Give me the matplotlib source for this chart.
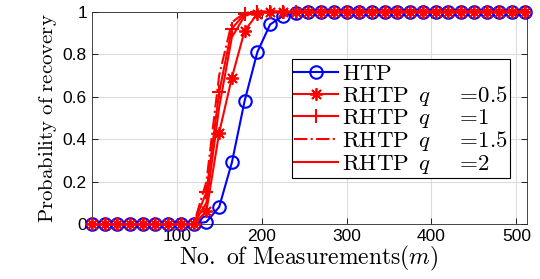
import numpy as np
import matplotlib
matplotlib.use("Agg")
import matplotlib.pyplot as plt

plt.rcParams["mathtext.fontset"] = "cm"
plt.rcParams["font.family"] = ["Liberation Sans", "DejaVu Sans"]

# number of measurements
m = [0, 15, 30, 45, 60, 75, 90, 105, 120, 135, 150, 165, 180, 195, 210, 225, 240,
     255, 270, 285, 300, 315, 330, 345, 360, 375, 390, 405, 420, 435, 450, 465,
     480, 495, 510]

tail = [1] * 18
htp = [0, 0, 0, 0, 0, 0, 0, 0, 0, 0.01, 0.08, 0.29, 0.58, 0.81, 0.94, 0.98, 0.995] + tail
rhtp_05 = [0, 0, 0, 0, 0, 0, 0, 0, 0, 0.06, 0.43, 0.69, 0.91, 0.99, 1, 1, 1] + tail
rhtp_1 = [0, 0, 0, 0, 0, 0, 0, 0, 0, 0.15, 0.62, 0.92, 0.99, 1, 1, 1, 1] + tail
rhtp_15 = [0, 0, 0, 0, 0, 0, 0, 0, 0, 0.2, 0.7, 0.95, 0.995, 1, 1, 1, 1] + tail
rhtp_2 = [0, 0, 0, 0, 0, 0, 0, 0, 0, 0.1, 0.55, 0.88, 0.98, 1, 1, 1, 1] + tail

labels = [r"$\mathrm{HTP}$",
          r"$\mathrm{RHTP}\ \,q\ \ \ \ =\!0.5$",
          r"$\mathrm{RHTP}\ \,q\ \ \ \ =\!1$",
          r"$\mathrm{RHTP}\ \,q\ \ \ \ =\!1.5$",
          r"$\mathrm{RHTP}\ \,q\ \ \ \ =\!2$"]

fig = plt.figure(figsize=(5.4, 2.79), dpi=100)
ax = fig.add_axes([0.170, 0.197, 0.805, 0.761])

lw = 1.5
ax.plot(m, htp, color="blue", lw=lw, marker="o", ms=9, mfc="none", mew=1.5,
        label=labels[0], clip_on=False, zorder=3)
ax.plot(m, rhtp_05, color="red", lw=lw, marker=(8, 2, 0), ms=9, mew=1.3,
        label=labels[1], clip_on=False, zorder=4)
ax.plot(m, rhtp_1, color="red", lw=lw, marker="+", ms=10, mew=1.5,
        label=labels[2], clip_on=False, zorder=4)
ax.plot(m, rhtp_15, color="red", lw=lw, ls="-.", label=labels[3], clip_on=False, zorder=4)
ax.plot(m, rhtp_2, color="red", lw=lw, ls="-", label=labels[4], clip_on=False, zorder=4)

ax.set_xlim(0, 512)
ax.set_ylim(0, 1)
ax.set_xticks([100, 200, 300, 400, 500])
ax.set_yticks([0, 0.2, 0.4, 0.6, 0.8, 1])
ax.set_yticklabels(["0", "0.2", "0.4", "0.6", "0.8", "1"])
ax.tick_params(direction="in", top=True, right=True, labelsize=12.5, length=4,
               width=0.6)
ax.grid(True, color="#dcdcdc", lw=0.8)
ax.set_axisbelow(True)
for s in ax.spines.values():
    s.set_linewidth(0.6)
    s.set_color("#262626")

ax.set_xlabel(r"$\mathrm{No.\ of\ Measurements}(m)$", fontsize=17, labelpad=0)
ax.set_ylabel(r"$\mathrm{Probability\ of\ recovery}$", fontsize=15, labelpad=3)

leg = ax.legend(loc="upper left", bbox_to_anchor=(0.46, 0.775), fontsize=16.5,
                frameon=True, fancybox=False, edgecolor="black", framealpha=1,
                numpoints=1, handlelength=1.9, handletextpad=0.2,
                labelspacing=-0.05, borderpad=0.1, borderaxespad=0)
leg.get_frame().set_linewidth(0.8)

fig.savefig("out.png", dpi=100)
